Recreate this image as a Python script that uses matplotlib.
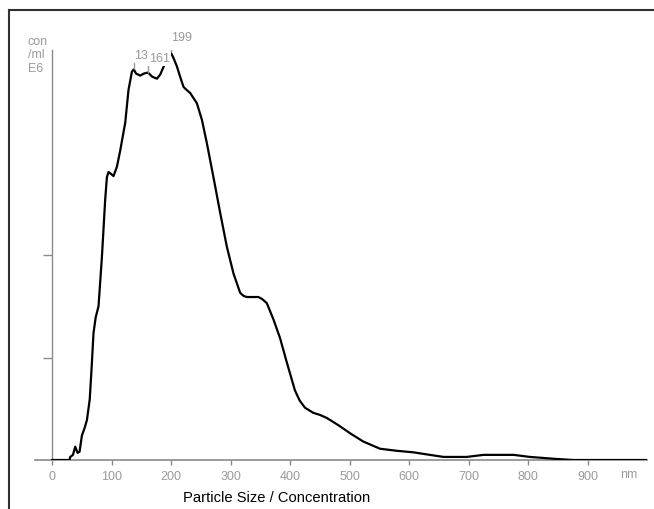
import matplotlib
matplotlib.use("Agg")
import matplotlib.pyplot as plt
from matplotlib.lines import Line2D
import numpy as np

# ---- data ----
size_nm = [0, 29, 30.3, 34.8, 38.7, 42.5, 45.9, 49.9, 54.3, 58.3, 63, 66, 69.4, 73,
           77.8, 83.5, 89, 91.9, 94.6, 99, 103, 108.7, 114.3, 122.7, 128.2, 134, 137,
           141, 148, 154, 161, 168, 176, 181.5, 188.2, 199, 204, 209.6, 215, 220.7, 226,
           232, 243.2, 251.6, 260, 271, 282.4, 293.6, 304.7, 316, 322, 327.2, 337, 346.7,
           353, 360.8, 372, 383, 394.5, 408, 416, 425, 439, 450, 461.7, 481, 501, 523,
           551, 579, 607, 635, 658, 697, 725, 750, 776, 803, 848, 876, 1000]
conc = [0, 0, 0.03, 0.05, 0.13, 0.07, 0.08, 0.24, 0.31, 0.39, 0.59, 0.88, 1.24, 1.39,
        1.50, 1.98, 2.54, 2.76, 2.81, 2.79, 2.77, 2.86, 3.02, 3.29, 3.61, 3.79, 3.81,
        3.77, 3.75, 3.77, 3.78, 3.74, 3.72, 3.76, 3.85, 3.98, 3.92, 3.84, 3.74, 3.64, 3.61,
        3.58, 3.48, 3.32, 3.09, 2.76, 2.41, 2.08, 1.82, 1.63, 1.60, 1.59, 1.59, 1.59,
        1.57, 1.53, 1.37, 1.19, 0.95, 0.68, 0.58, 0.51, 0.46, 0.44, 0.41, 0.34, 0.26, 0.18,
        0.11, 0.09, 0.075, 0.05, 0.03, 0.03, 0.05, 0.05, 0.05, 0.03, 0.01, 0, 0]

xtick_vals = [0, 100, 200, 300, 400, 500, 600, 700, 800, 900]
xtick_labels = ["0", "100", "200", "300", "400", "500", "600", "700", "800", "900"]
ytick_vals = [1, 2]
peak_sizes = [137, 161, 199]
peak_labels = ["13", "161", "199"]

W, H = 654, 509
fig = plt.figure(figsize=(W / 100, H / 100), dpi=100)

def fx(px):
    return px / W

def fy(py):
    return 1 - py / H

ax = fig.add_axes([fx(35), fy(460), fx(647) - fx(35), fy(50) - fy(460)])
ax.set_xlim(-29, 1000)
ax.set_ylim(0, 4)

grey_axis = "#8a8a8a"
grey_text = "#9a9a9a"

ax.plot(size_nm, conc, color="black", lw=1.6, zorder=3, solid_joinstyle="round")

for s in ["top", "right"]:
    ax.spines[s].set_visible(False)
ax.spines["left"].set_position(("data", 0))
ax.spines["left"].set_color(grey_axis)
ax.spines["left"].set_linewidth(1.0)
ax.spines["bottom"].set_color(grey_axis)
ax.spines["bottom"].set_linewidth(1.2)
ax.patch.set_alpha(0)

regular = ["Liberation Sans", "DejaVu Sans"]

ax.set_xticks(xtick_vals)
ax.set_xticklabels(xtick_labels, family=regular, fontsize=9, color=grey_text)
ax.tick_params(axis="x", direction="out", length=3.3, width=1.0, color=grey_axis, pad=4.5)
ax.set_yticks(ytick_vals)
ax.set_yticklabels([])
ax.tick_params(axis="y", direction="out", length=6.5, width=1.0, color=grey_axis)

# peak markers and labels
peak_vals = np.interp(peak_sizes, size_nm, conc)
ax.vlines(peak_sizes, peak_vals, peak_vals + 0.08, color=grey_text, lw=1.0, zorder=4)
for i, (s, v, lab) in enumerate(zip(peak_sizes, peak_vals, peak_labels)):
    ax.annotate(lab, xy=(s, v), xytext=(0.5, 7.8), textcoords="offset points",
                ha="left", va="baseline", fontsize=9, family=regular, color=grey_text,
                annotation_clip=False, zorder=5 + i,
                bbox=dict(facecolor="white", edgecolor="none", pad=1.2))

# axis unit texts
fig.text(fx(28), fy(45), "con", family=regular, fontsize=9, color=grey_text, va="baseline")
fig.text(fx(28), fy(58), "/ml", family=regular, fontsize=9, color=grey_text, va="baseline")
fig.text(fx(28), fy(72), "E6", family=regular, fontsize=9, color=grey_text, va="baseline")
fig.text(fx(629), fy(474.5), "nm", family=regular, fontsize=9, color=grey_text,
         ha="center", va="center")
fig.text(fx(277), fy(498), "Particle Size / Concentration", family=regular, fontsize=10.6,
         color="black", ha="center", va="center")

# frame lines (top and left)
fig.add_artist(Line2D([fx(9), 1], [fy(10), fy(10)], transform=fig.transFigure,
                      color="#303030", lw=1.5))
fig.add_artist(Line2D([fx(9), fx(9)], [0, fy(10)], transform=fig.transFigure,
                      color="#303030", lw=1.5))

fig.savefig("out.png", dpi=100)
